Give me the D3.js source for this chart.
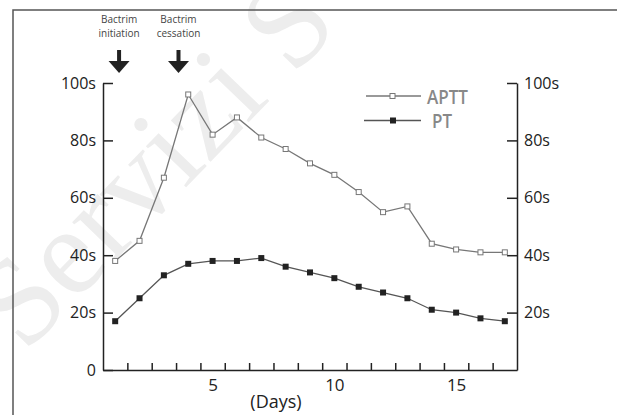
<!DOCTYPE html>
<html>
<head>
<meta charset="utf-8">
<script src="https://cdn.jsdelivr.net/npm/d3@7"></script>
<style>
  body { margin: 0; background: #fff; }
  text { font-family: "Open Sans", sans-serif; }
</style>
</head>
<body>
<div id="wrapper"></div>
<script>
// values
var days = [1,2,3,4,5,6,7,8,9,10,11,12,13,14,15,16,17];
var aptt = [38,45,67,96,82,88,81,77,72,68,62,55,57,44,42,41,41];
var pt   = [17,25,33,37,38,38,39,36,34,32,29,27,25,21,20,18,17];
var yTicksLeft = [0,20,40,60,80,100];
var yTicksRight = [20,40,60,80,100];
var xLabelTicks = [5,10,15];
var xMinorTicks = [1.5,2.5,3.5,4.5,5.5,6.5,7.5,8.5,9.5,10.5,11.5,12.5,13.5,14.5,15.5,16.5];
var notes = [
  {day: 1.16, lines: ["Bactrim","initiation"]},
  {day: 3.6,  lines: ["Bactrim","cessation"]}
];
var legendItems = ["APTT","PT"];

var W = 617, H = 415;
var svg = d3.select("#wrapper").append("svg").attr("width", W).attr("height", H);

// faint watermark behind everything
svg.append("text")
  .attr("transform", "translate(25,354) rotate(-46)")
  .style("font-family", "'Liberation Serif', serif")
  .style("font-size", "125px")
  .attr("fill", "#ededed")
  .text("Servizi S");

// frame
svg.append("path").attr("d", "M13," + H + "L13,10L" + W + ",10")
  .attr("fill", "none").attr("stroke", "#555").attr("stroke-width", 1.5);

var x = d3.scaleLinear().domain([0.5, 17.5]).range([103, 517]);
var y = d3.scaleLinear().domain([0, 100]).range([370, 83]);
var fmt = function(d) { return d === 0 ? "0" : d + "s"; };

var chart = svg.append("g");

function styleAxis(g) {
  g.selectAll("path,line").attr("stroke", "#222").attr("stroke-width", 1.5);
  g.selectAll("text").attr("fill", "#222").style("font-size", "16px").style("font-family", "'Open Sans', sans-serif");
}

chart.append("g").attr("transform", "translate(" + x(0.5) + ",0)")
  .call(d3.axisLeft(y).tickValues(yTicksLeft).tickFormat(fmt).tickSize(-10).tickSizeOuter(0).tickPadding(7))
  .call(styleAxis);

chart.append("g").attr("transform", "translate(" + x(17.5) + ",0)")
  .call(d3.axisRight(y).tickValues(yTicksRight).tickFormat(fmt).tickSize(-10).tickSizeOuter(0).tickPadding(7))
  .call(styleAxis);

chart.append("g").attr("transform", "translate(0," + y(0) + ")")
  .call(d3.axisBottom(x).tickValues(xMinorTicks).tickFormat("").tickSize(-7).tickSizeOuter(0))
  .call(styleAxis);

var xl = chart.append("g").attr("transform", "translate(0," + y(0) + ")")
  .call(d3.axisBottom(x).tickValues(xLabelTicks).tickSize(0).tickPadding(9))
  .call(styleAxis);
xl.select(".domain").remove();
xl.selectAll("text").style("font-size", "17px");

chart.append("text").attr("x", 276).attr("y", 408).attr("text-anchor", "middle")
  .attr("fill", "#222").style("font-size", "18px").text("(Days)");

// series
var line = d3.line().x(function(d, i) { return x(days[i]); }).y(function(d) { return y(d); });

chart.append("path").datum(aptt).attr("d", line)
  .attr("fill", "none").attr("stroke", "#777").attr("stroke-width", 1.3);
chart.append("path").datum(pt).attr("d", line)
  .attr("fill", "none").attr("stroke", "#555").attr("stroke-width", 1.3);

chart.selectAll(".aptt").data(aptt).enter().append("rect").attr("class", "aptt")
  .attr("x", function(d, i) { return x(days[i]) - 2.5; })
  .attr("y", function(d) { return y(d) - 2.5; })
  .attr("width", 5).attr("height", 5)
  .attr("fill", "#fff").attr("stroke", "#777").attr("stroke-width", 1);

chart.selectAll(".pt").data(pt).enter().append("rect").attr("class", "pt")
  .attr("x", function(d, i) { return x(days[i]) - 3; })
  .attr("y", function(d) { return y(d) - 3; })
  .attr("width", 6).attr("height", 6)
  .attr("fill", "#222");

// legend
var leg = chart.selectAll(".leg").data(legendItems).enter().append("g").attr("class", "leg")
  .attr("transform", function(d, i) { return "translate(0," + (96 + i * 24.5) + ")"; });
leg.append("line").attr("x1", function(d, i) { return i ? 364 : 366; }).attr("x2", 421)
  .attr("stroke", function(d, i) { return i ? "#555" : "#777"; }).attr("stroke-width", 1.3);
leg.append("rect").attr("x", 390).attr("y", function(d, i) { return i ? -3 : -2.5; })
  .attr("width", function(d, i) { return i ? 6 : 5; }).attr("height", function(d, i) { return i ? 6 : 5; })
  .attr("fill", function(d, i) { return i ? "#222" : "#fff"; })
  .attr("stroke", function(d, i) { return i ? "none" : "#777"; });
leg.append("text").attr("x", function(d, i) { return i ? 432 : 427; }).attr("y", 7.5)
  .attr("fill", "#888").style("font-size", "20px").style("font-weight", "600")
  .attr("textLength", function(d, i) { return i ? 20 : 41; }).attr("lengthAdjust", "spacingAndGlyphs")
  .text(function(d) { return d; });

// annotations with arrows
var note = chart.selectAll(".note").data(notes).enter().append("g").attr("class", "note")
  .attr("transform", function(d) { return "translate(" + x(d.day) + ",0)"; });
note.selectAll("text").data(function(d) { return d.lines; }).enter().append("text")
  .attr("y", function(d, i) { return 23 + i * 13.5; }).attr("text-anchor", "middle")
  .attr("fill", "#444").style("font-size", "10px").text(function(d) { return d; });
note.append("rect").attr("x", -2).attr("y", 50).attr("width", 4).attr("height", 12).attr("fill", "#222");
note.append("path").attr("d", "M-10.5,61L10.5,61L0,73Z").attr("fill", "#222");
</script>
</body>
</html>
